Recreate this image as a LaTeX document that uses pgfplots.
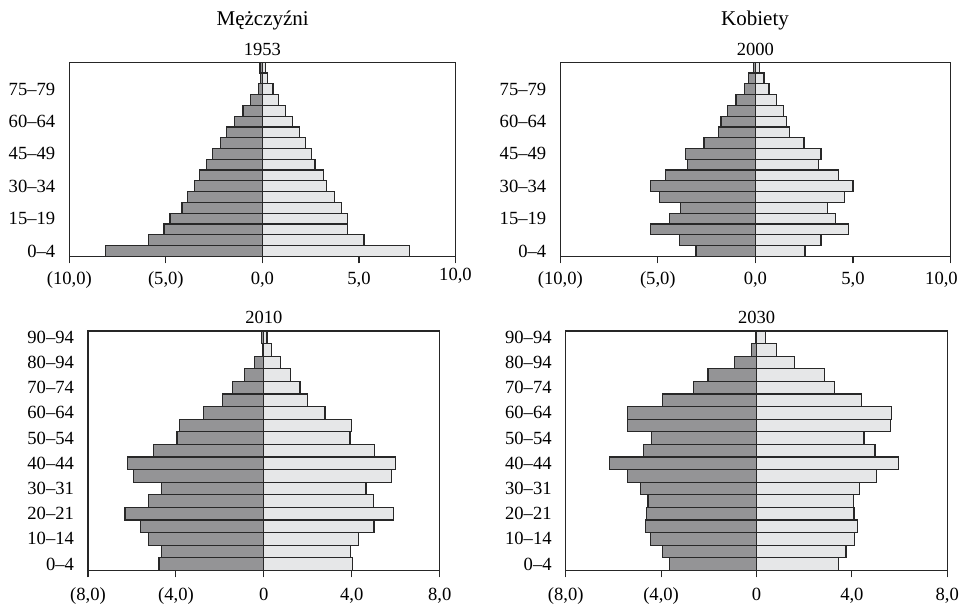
\documentclass[border=0pt]{standalone}
\usepackage{fontspec}
\setmainfont{Liberation Serif}
\usepackage{pgfplots}
\usepackage{pgfplotstable}
\pgfplotsset{compat=1.18}

\definecolor{mgray}{RGB}{148,148,150}
\definecolor{fgray}{RGB}{230,231,232}
\definecolor{edge}{RGB}{40,40,40}

% age group index, men (left, negative), women (right)
\pgfplotstableread{
age m f
0 -8.14 7.60
1 -5.90 5.26
2 -5.10 4.41
3 -4.78 4.41
4 -4.16 4.09
5 -3.86 3.72
6 -3.50 3.34
7 -3.24 3.17
8 -2.88 2.72
9 -2.59 2.55
10 -2.17 2.22
11 -1.84 1.93
12 -1.43 1.57
13 -1.00 1.19
14 -0.60 0.83
15 -0.19 0.55
16 -0.09 0.28
17 -0.12 0.14
}\tA

\pgfplotstableread{
age m f
0 -3.05 2.54
1 -3.90 3.36
2 -5.36 4.78
3 -4.40 4.12
4 -3.86 3.71
5 -4.90 4.58
6 -5.36 5.00
7 -4.62 4.27
8 -3.48 3.22
9 -3.57 3.36
10 -2.64 2.49
11 -1.91 1.73
12 -1.76 1.58
13 -1.43 1.42
14 -1.00 1.08
15 -0.57 0.70
16 -0.34 0.44
17 -0.09 0.19
}\tB

\pgfplotstableread{
age m f
0 -4.77 4.05
1 -4.65 3.95
2 -5.23 4.29
3 -5.61 5.01
4 -6.32 5.91
5 -5.23 5.00
6 -4.64 4.65
7 -5.94 5.82
8 -6.20 6.00
9 -5.02 5.04
10 -3.95 3.92
11 -3.83 3.98
12 -2.76 2.78
13 -1.89 2.00
14 -1.44 1.64
15 -0.88 1.22
16 -0.42 0.77
17 -0.05 0.33
18 -0.11 0.14
}\tC

\pgfplotstableread{
age m f
0 -3.65 3.44
1 -3.93 3.75
2 -4.46 4.11
3 -4.67 4.25
4 -4.60 4.09
5 -4.55 4.06
6 -4.87 4.31
7 -5.40 5.02
8 -6.15 5.97
9 -4.74 4.97
10 -4.39 4.51
11 -5.41 5.62
12 -5.40 5.65
13 -3.93 4.40
14 -2.64 3.27
15 -2.03 2.84
16 -0.91 1.58
17 -0.21 0.85
18 -0.04 0.39
}\tD

\pgfplotsset{
  pyr/.style={
    scale only axis, xbar, bar width=1, bar shift=0pt,
    axis line style={draw=black!85, line width=0.55pt},
    tick align=outside, xtick pos=left, major tick length=3.5pt,
    ytick style={draw=none},
    xtick style={draw=black!85, line width=0.55pt},
    tick label style={font=\fontsize{9.3}{11}\selectfont},
    /pgf/number format/assume math mode=true,
    yticklabel style={xshift=0pt},
    xticklabel style={anchor=base, yshift=-10.8pt},
    every axis title/.style={at={(0.5,1)}, anchor=base, yshift=3.2pt,
      font=\fontsize{9.25}{11}\selectfont},
  },
  top/.style={pyr, height=97pt, xmin=-10, xmax=10, ymin=-0.5, ymax=17.5,
    xtick={-10,-5,0,5,10},
    ytick={0,3,...,15},
    yticklabels={0--4,15--19,30--34,45--49,60--64,75--79}},
  bot/.style={pyr, height=119.65pt, xmin=-8, xmax=8, ymin=-0.5, ymax=18.5,
    xtick={-8,-4,0,4,8},
    xticklabels={{(8,0)},{(4,0)},0,{4,0},{8,0}},
    ytick={0,2,...,18},
    yticklabels={0--4,10--14,20--21,30--31,40--44,50--54,60--64,70--74,80--94,90--94},
    xticklabel style={yshift=-0.6pt},
    every axis title/.append style={yshift=0.8pt}},
  men/.style={fill=mgray, draw=edge, line width=0.6pt},
  women/.style={fill=fgray, draw=edge, line width=0.6pt},
}

\begin{document}
\begin{tikzpicture}
\useasboundingbox (0,0) rectangle (481pt,-302pt);

\node[anchor=base, font=\fontsize{10.5}{12}\selectfont] at (131.35pt,-13pt) {Mężczyźni};
\node[anchor=base, font=\fontsize{10.5}{12}\selectfont] at (377.5pt,-13pt) {Kobiety};

\begin{axis}[top, width=193.1pt, at={(34.65pt,-128.15pt)}, anchor=south west, title={1953},
  xticklabels={{(10,0)},{(5,0)},{0,0},{5,0},{\raisebox{2pt}{10,0}}}]
  \addplot[men] table[x=m, y=age] {\tA};
  \addplot[women] table[x=f, y=age] {\tA};
\end{axis}

\begin{axis}[top, width=195.1pt, at={(280.15pt,-128.15pt)}, anchor=south west, title={2000},
  xticklabels={{(10,0)},{(5,0)},{0,0},{5,0},{\makebox[0pt]{\hspace{-9pt}10,0}}}]
  \addplot[men] table[x=m, y=age] {\tB};
  \addplot[women] table[x=f, y=age] {\tB};
\end{axis}

\begin{axis}[bot, width=175.85pt, at={(44pt,-285.15pt)}, anchor=south west, title={2010}]
  \addplot[men] table[x=m, y=age] {\tC};
  \addplot[women] table[x=f, y=age] {\tC};
\end{axis}

\begin{axis}[bot, width=190.8pt, at={(282.85pt,-285.15pt)}, anchor=south west, title={2030}]
  \addplot[men] table[x=m, y=age] {\tD};
  \addplot[women] table[x=f, y=age] {\tD};
\end{axis}
\end{tikzpicture}
\end{document}
